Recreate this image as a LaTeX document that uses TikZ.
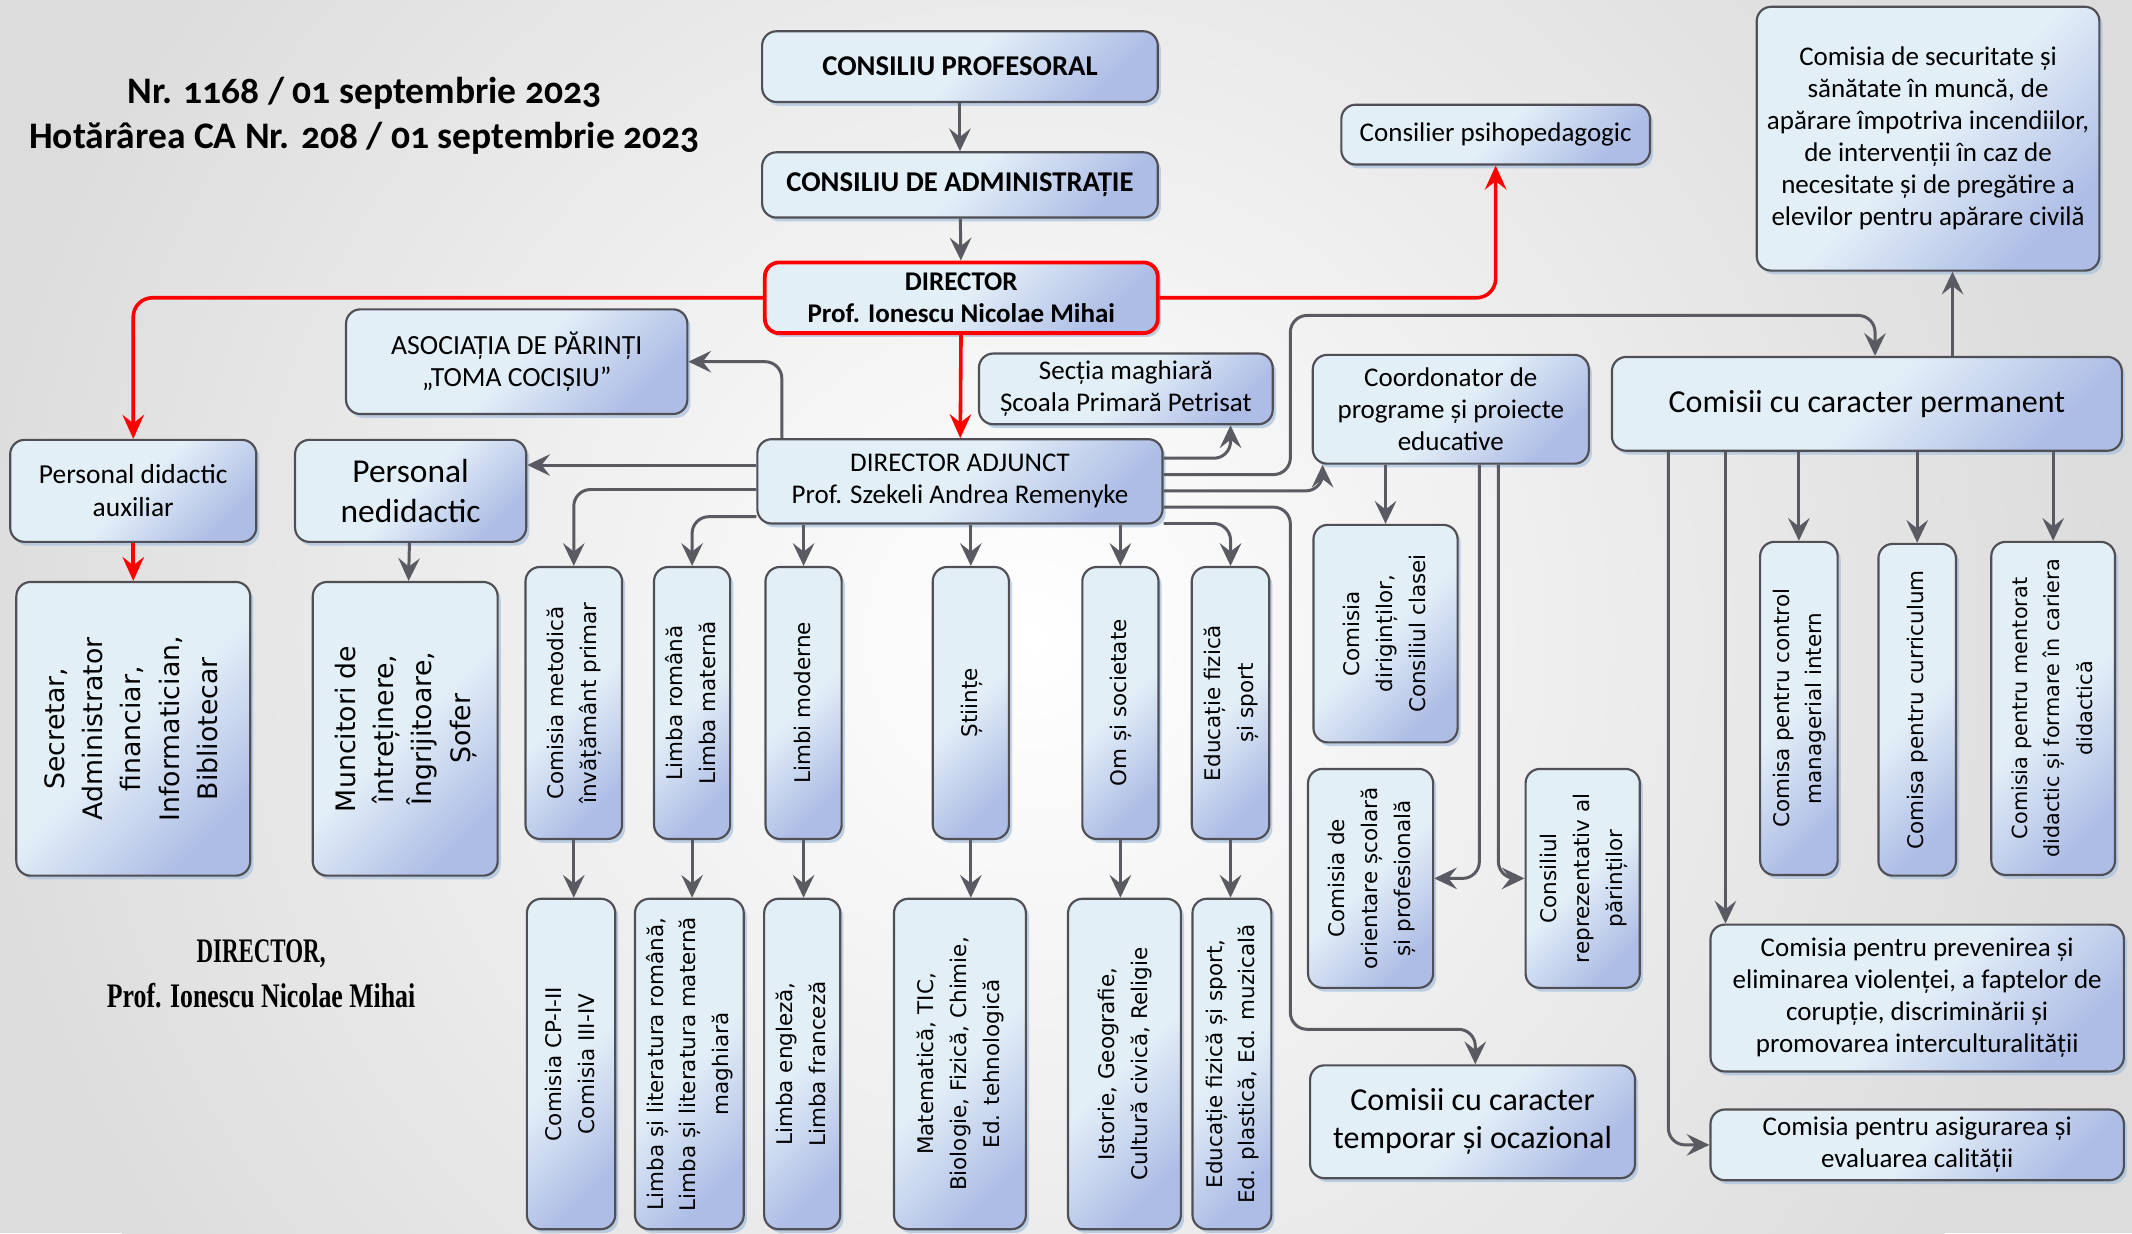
\documentclass[tikz,border=0pt]{standalone}
\usepackage{fontspec}
\usepackage{graphicx}
\setmainfont{Carlito}
\newfontfamily\titlefont{Carlito}[Numbers=OldStyle]
\newfontfamily\vertfont{DejaVu Sans}
\newfontfamily\signfont{Liberation Serif}
\usetikzlibrary{positioning,calc,shadows,arrows.meta}

\definecolor{boxlight}{HTML}{E3EFF7}
\definecolor{boxblue}{HTML}{AEBDE6}
\definecolor{boxedge}{HTML}{4F4F55}
\definecolor{linegray}{HTML}{5A5A62}
\definecolor{bggray}{HTML}{DCDCDC}
\definecolor{shadowblue}{HTML}{A7C0DC}

% size in picture units (1 unit = 0.02cm)
\def\D{*0.02cm}
% vertical label
\newcommand{\vlab}[1]{\rotatebox{90}{\begin{tabular}{@{}c@{}}#1\end{tabular}}}

\begin{document}
\begin{tikzpicture}[
    x=0.02cm, y=-0.02cm,
    box/.style={rounded corners=6pt, draw=boxedge, line width=0.9pt,
        top color=boxlight, bottom color=boxblue, middle color=boxlight, shading angle=45,
        drop shadow={shadow xshift=1.3pt, shadow yshift=-1.6pt, fill=shadowblue, opacity=0.7},
        align=center, inner sep=1pt, font=\fontsize{11.3}{13.4}\selectfont},
    headbox/.style={box, font=\bfseries\fontsize{12}{14}\selectfont},
    vbox/.style={box, font=\vertfont\fontsize{9}{13.8}\selectfont},
    bigvbox/.style={box, font=\vertfont\fontsize{11.2}{16}\selectfont},
    arr/.style={draw=linegray, line width=1.25pt, rounded corners=7pt,
        -{Stealth[length=9.5pt, width=9pt, inset=3.5pt]}},
    redarr/.style={draw=red, line width=1.5pt, rounded corners=8pt,
        -{Stealth[length=10pt, width=9pt, inset=3.5pt]}},
]

% background
\useasboundingbox (0,0) rectangle (1568,907);
\fill[bggray] (0,0) rectangle (1568,907);
\begin{scope}
  \clip (0,0) rectangle (1568,907);
  \shade[inner color=white, outer color=bggray] (760,470) circle (800);
\end{scope}

% title and signature
\node[font=\titlefont\bfseries\fontsize{15.7}{18.8}\selectfont, align=center] (title) at (268,85)
  {Nr. 1168 / 01 septembrie 2023\\Hotărârea CA Nr. 208 / 01 septembrie 2023};
\node[font=\signfont\bfseries\fontsize{12}{18.8}\selectfont, align=center] (sign) at (192,716)
  {\scalebox{0.8}[1.2]{DIRECTOR,}\\\scalebox{0.9}[1.2]{Prof. Ionescu Nicolae Mihai}};

% top of the hierarchy
\node[headbox, minimum width=291\D, minimum height=52\D] (prof) at (706,49) {CONSILIU PROFESORAL};
\node[headbox, minimum width=291\D, minimum height=48\D] (admin) at (706,136) {CONSILIU DE ADMINISTRAȚIE};
\node[box, draw=red, line width=1.6pt, font=\bfseries\fontsize{11.3}{13.7}\selectfont,
      minimum width=289\D, minimum height=52\D] (dir) at (707,219) {DIRECTOR\\Prof. Ionescu Nicolae Mihai};
\node[box, minimum width=227\D, minimum height=44\D] (psih) at (1100,99) {Consilier psihopedagogic};
\node[box, minimum width=252\D, minimum height=194\D] (secu) at (1418,102)
  {Comisia de securitate și\\sănătate în muncă, de\\apărare împotriva incendiilor,\\de intervenții în caz de\\necesitate și de pregătire a\\elevilor pentru apărare civilă};

% second level
\node[box, font=\fontsize{11.6}{13.2}\selectfont, minimum width=251\D, minimum height=77\D] (asoc) at (380,266)
  {ASOCIAȚIA DE PĂRINȚI\\„TOMA COCIȘIU”};
\node[box, minimum width=216\D, minimum height=52\D] (sectia) at (828,286) {Secția maghiară\\Școala Primară Petrisat};
\node[box, minimum width=298\D, minimum height=62\D] (adj) at (706,354) {DIRECTOR ADJUNCT\\Prof. Szekeli Andrea Remenyke};
\node[box, font=\fontsize{11.5}{13.7}\selectfont, minimum width=181\D, minimum height=75\D] (pda) at (98,361)
  {Personal didactic\\auxiliar};
\node[box, font=\fontsize{14}{16.5}\selectfont, minimum width=170\D, minimum height=75\D] (pned) at (302,361)
  {Personal\\nedidactic};
\node[bigvbox, minimum width=172\D, minimum height=216\D] (sec) at (98,536)
  {\vlab{Secretar,\\Administrator\\financiar,\\Informatician,\\Bibliotecar}};
\node[bigvbox, minimum width=136\D, minimum height=216\D] (munc) at (298,536)
  {\vlab{Muncitori de\\întreținere,\\Îngrijitoare,\\Șofer}};

% catedre, first row
\node[vbox, minimum width=71\D, minimum height=200\D] (cm) at (422,517) {\vlab{Comisia metodică\\învățământ primar}};
\node[vbox, minimum width=56\D, minimum height=200\D] (lr) at (509,517) {\vlab{Limba română\\Limba maternă}};
\node[vbox, minimum width=56\D, minimum height=200\D] (lmod) at (591,517) {\vlab{Limbi moderne}};
\node[vbox, minimum width=56\D, minimum height=200\D] (st) at (714,517) {\vlab{Științe}};
\node[vbox, minimum width=56\D, minimum height=200\D] (os) at (824,517) {\vlab{Om și societate}};
\node[vbox, minimum width=57\D, minimum height=200\D] (ef) at (905,517) {\vlab{Educație fizică\\și sport}};

% catedre, second row
\node[vbox, minimum width=65\D, minimum height=243\D] (cp) at (420,782.5) {\vlab{Comisia CP-I-II\\Comisia III-IV}};
\node[vbox, minimum width=80\D, minimum height=243\D] (ll) at (507,782.5)
  {\vlab{Limba și literatura română,\\Limba și literatura maternă\\maghiară}};
\node[vbox, minimum width=56\D, minimum height=243\D] (le) at (590,782.5) {\vlab{Limba engleză,\\Limba franceză}};
\node[vbox, minimum width=97\D, minimum height=243\D] (mat) at (706,782.5)
  {\vlab{Matematică, TIC,\\Biologie, Fizică, Chimie,\\Ed. tehnologică}};
\node[vbox, minimum width=83\D, minimum height=243\D] (ist) at (827,782.5)
  {\vlab{Istorie, Geografie,\\Cultură civică, Religie}};
\node[vbox, minimum width=58\D, minimum height=243\D] (efs) at (906,782.5)
  {\vlab{Educație fizică și sport,\\Ed. plastică, Ed. muzicală}};

% educative programmes
\node[box, minimum width=203\D, minimum height=80\D] (coord) at (1067,301)
  {Coordonator de\\programe și proiecte\\educative};
\node[vbox, minimum width=106\D, minimum height=160\D] (dirig) at (1019,466)
  {\vlab{Comisia\\diriginților,\\Consiliul clasei}};
\node[vbox, minimum width=92\D, minimum height=161\D] (orient) at (1008,646)
  {\vlab{Comisia de\\orientare școlară\\și profesională}};
\node[vbox, minimum width=84\D, minimum height=161\D] (cons) at (1164,646)
  {\vlab{Consiliul\\reprezentativ al\\părinților}};
\node[box, font=\fontsize{13.4}{16}\selectfont, minimum width=239\D, minimum height=83\D] (temp) at (1083,825)
  {Comisii cu caracter\\temporar și ocazional};

% permanent commissions
\node[box, font=\fontsize{13.4}{16}\selectfont, minimum width=375\D, minimum height=69\D] (perm) at (1373,297)
  {Comisii cu caracter permanent};
\node[vbox, minimum width=57\D, minimum height=245\D] (ctrl) at (1323,521)
  {\vlab{Comisa pentru control\\managerial intern}};
\node[vbox, minimum width=57\D, minimum height=244\D] (curr) at (1410,522)
  {\vlab{Comisa pentru curriculum}};
\node[vbox, font=\vertfont\fontsize{8.7}{13.6}\selectfont, minimum width=91\D, minimum height=245\D] (ment) at (1510,521)
  {\vlab{Comisia pentru mentorat\\didactic și formare în cariera\\didactică}};
\node[box, minimum width=304\D, minimum height=108\D] (prev) at (1410,734)
  {Comisia pentru prevenirea și\\eliminarea violenței, a faptelor de\\corupție, discriminării și\\promovarea interculturalității};
\node[box, minimum width=304\D, minimum height=52\D] (asig) at (1410,842)
  {Comisia pentru asigurarea și\\evaluarea calității};

% arrows from the director
\draw[arr] (prof) -- (admin);
\draw[arr] (admin) -- (dir);
\draw[redarr] (dir) -- (adj);
\draw[redarr] (dir.west) -| (pda.north);
\draw[redarr] (dir.east) -| (psih.south);
\draw[redarr] (pda) -- (sec);
\draw[arr] (pned) -- (munc);

% arrows from the deputy director
\draw[arr] (adj.north -| 575,0) |- (asoc.east);
\draw[arr] (adj.west |- 0,342) -- (pned.east |- 0,342);
\draw[arr] (adj.west |- 0,360) -| (cm.north);
\draw[arr] (adj.west |- 0,380) -| (lr.north);
\draw[arr] (adj.south -| lmod.north) -- (lmod.north);
\draw[arr] (adj.south -| st.north) -- (st.north);
\draw[arr] (adj.south -| os.north) -- (os.north);
\draw[arr] (adj.east |- 0,385) -| (ef.north);
\draw[arr] (adj.east |- 0,337) -| ($(sectia.south)+(77,0)$);
\draw[arr] (adj.east |- 0,349) -| (949,232) -| ($(perm.north)+(6,0)$);
\draw[arr] (adj.east |- 0,361) -| ($(coord.south west)+(8,0)$);
\draw[arr] (adj.east |- 0,373) -| (949,757) -| ($(temp.north)+(2,0)$);

% first row to second row
\draw[arr] (cm) -- (cm.south |- cp.north);
\draw[arr] (lr) -- (lr.south |- ll.north);
\draw[arr] (lmod) -- (lmod.south |- le.north);
\draw[arr] (st) -- (st.south |- mat.north);
\draw[arr] (os) -- (os.south |- ist.north);
\draw[arr] (ef) -- (ef.south |- efs.north);

% coordinator
\draw[arr] (coord.south -| dirig.north) -- (dirig.north);
\draw[arr] (coord.south -| 1088,0) |- (orient.east);
\draw[arr] (coord.south -| 1102,0) |- (cons.west);

% permanent commissions
\draw[arr] (perm.north -| 1436,0) -- (secu.south -| 1436,0);
\draw[arr] (perm.south -| 1227,0) |- (asig.west);
\draw[arr] (perm.south -| 1269,0) -- (prev.north -| 1269,0);
\draw[arr] (perm.south -| ctrl.north) -- (ctrl.north);
\draw[arr] (perm.south -| curr.north) -- (curr.north);
\draw[arr] (perm.south -| ment.north) -- (ment.north);

\end{tikzpicture}
\end{document}
